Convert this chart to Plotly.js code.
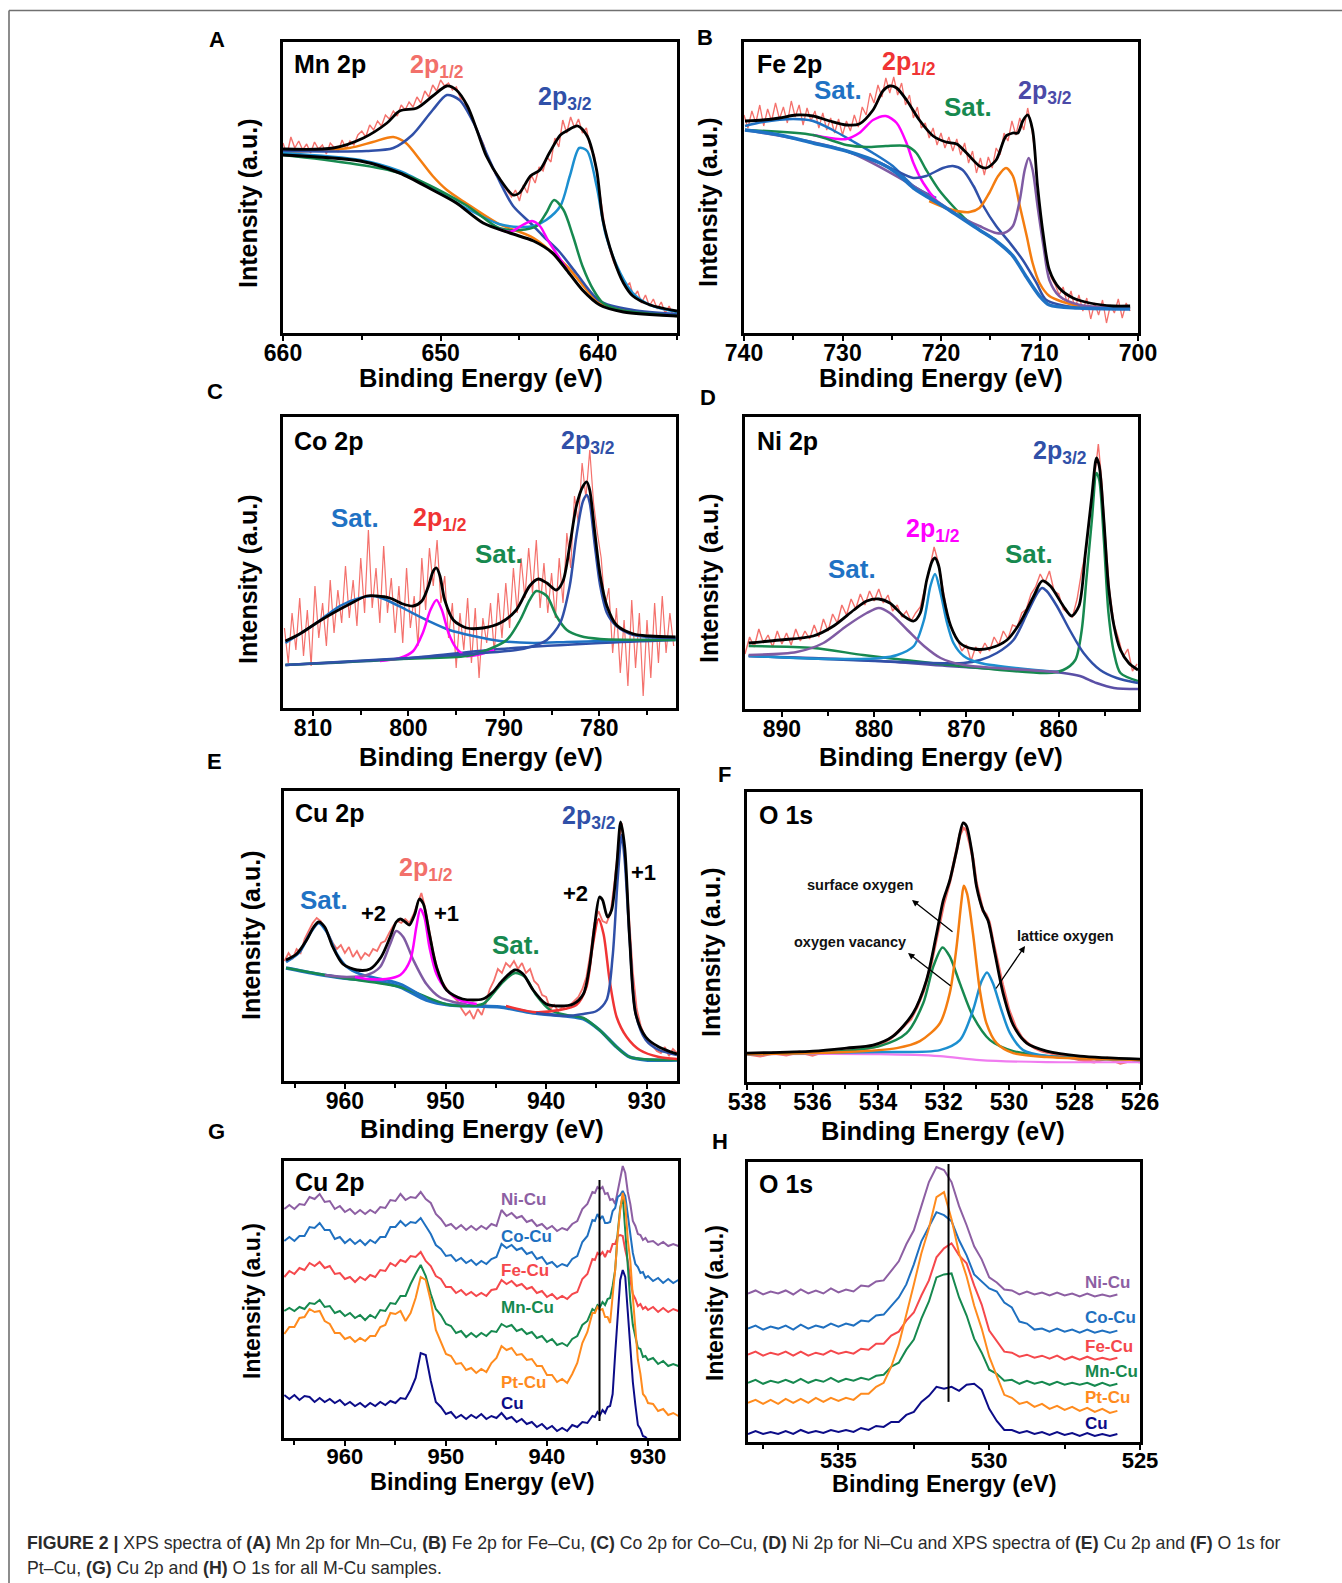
<!DOCTYPE html>
<html><head><meta charset="utf-8">
<script src="https://cdn.plot.ly/plotly-3.0.1.min.js"></script>
<style>html,body{margin:0;padding:0;background:#fff}#fig{width:1342px;height:1583px}</style>
</head><body><div id="fig"></div>
<script>
// ---------- Panel A : Mn 2p ----------
const A_raw_x=[660,659.75,659.5,659.25,659,658.75,658.5,658.25,658,657.75,657.5,657.25,657,656.75,656.5,656.25,656,655.75,655.5,655.25,655,654.75,654.5,654.25,654,653.75,653.5,653.25,653,652.75,652.5,652.25,652,651.75,651.5,651.25,651,650.75,650.5,650.25,650,649.75,649.5,649.25,649,648.75,648.5,648.25,648,647.75,647.5,647.25,647,646.75,646.5,646.25,646,645.75,645.5,645.25,645,644.75,644.5,644.25,644,643.75,643.5,643.25,643,642.75,642.5,642.25,642,641.75,641.5,641.25,641,640.75,640.5,640.25,640,639.75,639.5,639.25,639,638.75,638.5,638.25,638,637.75,637.5,637.25,637,636.75,636.5,636.25,636,635.75,635.5,635.25,635];
const A_raw_y=[190,178,196,185,192,183,189,180,191,184,188,179,190,186,181,193,184,192,188,198,202,196,208,203,212,207,218,214,222,217,228,223,231,226,236,230,242,236,248,242,253,247,250,243,246,235,232,220,214,205,196,188,174,168,158,155,147,141,136,143,132,148,140,158,150,166,162,176,171,195,186,213,200,216,205,214,200,205,185,178,150,125,98,82,70,62,56,47,50,36,42,30,38,27,34,24,31,20,27,18,22];
const A_fit_x=[660,656.8,654.9,653.4,652.6,651.5,650.5,649.6,649.0,648.3,647.7,647.1,646.2,645.4,645.0,644.3,643.7,643.1,642.4,642.0,641.3,640.7,640.1,639.7,639.0,638.4,637.8,636.7,635.0];
const A_fit_y=[184,185,195,210,222,225,237,247,243,227,203,177,153,138,140,157,163,180,198,202,207,197,163,113,73,50,37,28,22];
const A_bg_x=[660,655.1,652.6,650.5,649.0,647.3,645.6,644.1,642.9,642.0,641.0,639.9,638.4,635.0];
const A_bg_y=[178,172,160,143,130,110,100,92,80,63,43,28,21,17];
const A_orange_x=[660,655.8,654.3,653.0,652.2,651.3,650.5,649.6,648.4,646.3,644.1,642.0,639.9,637.8,635.0];
const A_orange_y=[181,185,191,196,190,173,157,143,130,109,95,67,30,22,17];
const A_blue_x=[660,654.7,653.0,651.8,650.5,649.6,648.8,647.9,647.1,646.3,645.4,644.3,643.5,642.5,641.4,639.9,637.8,635.0];
const A_blue_y=[182,182,185,198,223,238,233,210,180,153,127,110,97,82,60,32,23,19];
const A_cyan_x=[660,655.1,652.6,650.5,648.4,646.3,645.0,644.1,643.3,642.4,641.8,641.2,640.7,640.1,639.5,638.6,637.8,636.7,635.0];
const A_cyan_y=[180,173,162,145,125,109,106,107,113,127,157,185,182,147,97,60,40,28,21];
const A_green_x=[660,652.6,648.4,646.3,645.0,643.9,643.3,642.8,642.2,641.6,641.0,640.3,639.7,638.6,635.0];
const A_green_y=[178,160,128,105,103,107,120,133,123,97,67,43,30,23,17];
const A_mag_x=[646.3,645.6,644.8,644.2,643.7,643.2,642.5,642.0];
const A_mag_y=[104,101,108,112,107,93,76,64];

// ---------- Panel B : Fe 2p ----------
const B_raw_x=[740,739.6,739.2,738.8,738.4,738,737.6,737.2,736.8,736.4,736,735.6,735.2,734.8,734.4,734,733.6,733.2,732.8,732.4,732,731.6,731.2,730.8,730.4,730,729.6,729.2,728.8,728.4,728,727.6,727.2,726.8,726.4,726,725.6,725.2,724.8,724.4,724,723.6,723.2,722.8,722.4,722,721.6,721.2,720.8,720.4,720,719.6,719.2,718.8,718.4,718,717.6,717.2,716.8,716.4,716,715.6,715.2,714.8,714.4,714,713.6,713.2,712.8,712.4,712,711.6,711.2,710.8,710.4,710,709.6,709.2,708.8,708.4,708,707.6,707.2,706.8,706.4,706,705.6,705.2,704.8,704.4,704,703.6,703.2,702.8,702.4,702,701.6,701.2,700.8];
const B_raw_y=[218,205,222,210,228,207,224,212,230,214,226,210,232,216,228,208,225,212,222,205,220,203,215,200,214,198,212,202,218,206,226,218,240,230,248,236,255,240,256,238,250,228,238,215,226,205,210,195,205,188,200,185,196,182,194,178,190,170,182,160,175,158,176,165,185,178,200,192,212,198,215,203,225,205,175,120,90,70,55,48,38,46,30,42,24,38,22,35,14,30,18,33,10,28,20,34,15,30,22];
const B_fit_x=[739.9,738.1,736.4,734.7,733.0,731.3,729.6,728.3,726.9,725.9,725.2,724.5,723.5,722.2,720.8,719.5,718.4,717.4,716.1,715.4,714.4,713.4,712.7,712.2,711.7,711.2,710.7,710.2,709.6,709.0,708.0,706.6,704.9,702.5,700.8];
const B_fit_y=[212,213,215,218,217,212,208,209,223,242,247,245,233,213,197,191,189,180,167,165,173,197,200,200,212,218,203,147,97,63,45,35,30,27,27];
const B_bg_x=[739.9,736.4,733.0,729.6,726.2,724.5,722.8,719.5,716.1,714.4,712.7,711.4,710.0,709.0,706.0,700.8];
const B_bg_y=[203,198,190,182,170,160,145,125,103,92,77,57,37,28,25,24];
const B_sat1_x=[739.9,738.1,735.0,733.0,731.0,729.0,726.9,724.9,722.8,720.5];
const B_sat1_y=[207,211,214,212,203,192,180,167,147,135];
const B_mag_x=[733.0,731.3,729.6,728.3,726.9,725.6,724.5,723.5,722.8,721.8,720.5,719.5,717.0];
const B_mag_y=[198,195,194,200,213,217,210,190,170,150,133,125,110];
const B_green_x=[739.9,733.0,729.6,727.6,725.6,723.5,722.5,721.5,720.2,718.8,717.4,716.1,714.4];
const B_green_y=[203,198,188,186,187,187,180,163,143,127,113,103,93];
const B_dblue_x=[729.6,726.2,724.5,722.8,721.5,719.8,718.8,717.8,716.7,715.7,714.4,713.0,711.7,710.3,709.3,706.0];
const B_dblue_y=[182,170,162,155,157,165,167,163,147,127,107,90,73,50,33,25];
const B_orange_x=[721.2,719.5,718.4,717.1,716.1,715.1,714.2,713.4,712.7,712.0,711.3,710.7,710.0,709.0,707.6,705.9,700.8];
const B_orange_y=[132,125,122,121,125,140,157,165,157,127,97,70,50,37,31,27,25];
const B_purple_x=[739.9,729.6,722.8,717.8,716.1,714.4,713.6,712.7,712.0,711.5,711.1,710.7,710.2,709.6,709.0,708.0,705.9,700.8];
const B_purple_y=[203,182,147,115,107,100,100,107,133,163,175,163,127,87,53,37,28,25];

// ---------- Panel C : Co 2p ----------
const C_raw_x=[813.0,812.6,812.2,811.8,811.4,811.0,810.6,810.2,809.8,809.4,809.0,808.6,808.2,807.8,807.4,807.0,806.6,806.2,805.8,805.4,805.0,804.6,804.2,803.8,803.4,803.0,802.6,802.2,801.8,801.4,801.0,800.6,800.2,799.8,799.4,799.0,798.6,798.2,797.8,797.4,797.0,796.6,796.2,795.8,795.4,795.0,794.6,794.2,793.8,793.4,793.0,792.6,792.2,791.8,791.4,791.0,790.6,790.2,789.8,789.4,789.0,788.6,788.2,787.8,787.4,787.0,786.6,786.2,785.8,785.4,785.0,784.6,784.2,783.8,783.4,783.0,782.6,782.2,781.8,781.4,781.0,780.6,780.2,779.8,779.4,779.0,778.6,778.2,777.8,777.4,777.0,776.6,776.2,775.8,775.4,775.0,774.6,774.2,773.8,773.4,773.0,772.6,772.2];
const C_raw_y=[80,45,95,58,110,52,98,42,122,70,105,62,128,75,118,85,142,90,128,82,150,95,178,100,140,85,162,95,130,75,122,65,140,80,112,62,150,98,160,122,168,105,132,70,105,40,95,58,110,45,100,30,90,65,105,55,115,70,125,80,140,95,150,110,160,115,168,100,145,95,135,90,150,105,175,140,212,185,245,210,258,205,175,150,100,120,55,100,35,88,22,108,40,95,12,88,30,105,45,112,55,95,62];
const C_fit_x=[812.9,811.4,809.65,807.9,806.15,804.4,803.35,801.96,800.56,799.5,798.6,797.9,797.4,797.06,796.7,796.2,795.3,793.9,792.2,790.4,788.7,787.3,786.4,785.5,784.5,783.8,783.1,782.4,781.7,781.3,781.0,780.5,779.9,779.2,778.2,776.4,774.7,772.0];
const C_fit_y=[67,74,85,95,104,112,112,110,104,102,107,122,137,140,132,108,88,80,80,85,98,122,129,125,118,127,162,202,222,226,218,178,132,102,83,74,72,71];
const C_bg_x=[812.9,800.9,790.4,779.9,772.0];
const C_bg_y=[43,49,59,65,68];
const C_sat_x=[812.9,809.65,807.2,805.1,803.7,802.3,800.2,798.1,795.7,793.2,790.4,786.9,783.4,779.9,772.0];
const C_sat_y=[65,85,102,110,112,108,98,88,78,72,67,65,66,67,69];
const C_mag_x=[803.0,800.9,799.5,798.5,797.7,797.06,796.5,795.8,795.0,793.9,791.0];
const C_mag_y=[47,50,57,75,98,108,98,75,60,52,58];
const C_green_x=[812.9,800.9,793.9,791.5,789.7,788.3,787.3,786.6,785.5,784.5,783.4,782.0,779.9,772.0];
const C_green_y=[43,49,52,59,68,88,108,117,112,92,78,72,69,68];
const C_blue_x=[812.9,800.0,788.7,786.9,785.5,784.1,783.1,782.4,781.7,781.3,781.0,780.5,779.9,779.2,778.2,776.4,772.0];
const C_blue_y=[43,50,58,62,68,85,122,172,207,213,205,165,122,95,82,73,70];

// ---------- Panel D : Ni 2p ----------
const D_raw_x=[894,893.5,893,892.5,892,891.5,891,890.5,890,889.5,889,888.5,888,887.5,887,886.5,886,885.5,885,884.5,884,883.5,883,882.5,882,881.5,881,880.5,880,879.5,879,878.5,878,877.5,877,876.5,876,875.5,875,874.5,874,873.5,873,872.5,872,871.5,871,870.5,870,869.5,869,868.5,868,867.5,867,866.5,866,865.5,865,864.5,864,863.5,863,862.5,862,861.5,861,860.5,860,859.5,859,858.5,858,857.5,857,856.5,856,855.7,855.3,855,854.5,854,853.5,853,852.5,852,851.5];
const D_raw_y=[55,72,62,80,66,74,62,78,65,76,64,80,68,78,70,84,72,90,78,95,86,104,94,110,100,115,104,118,108,120,106,114,98,104,92,98,88,96,102,120,140,162,145,118,92,78,70,58,64,48,62,56,66,58,72,64,78,70,84,82,96,100,115,122,135,126,138,118,115,100,96,92,110,138,160,205,240,265,225,180,120,85,70,52,60,38,45];
const D_fit_x=[893.6,890.2,886.6,884.4,882.2,880.8,879.5,878.3,876.8,875.7,875.0,874.3,873.7,873.4,873.0,872.5,871.7,870.7,869.2,867.4,865.6,864.2,862.7,861.8,860.9,859.5,858.6,857.8,857.1,856.4,855.9,855.6,855.1,854.6,854.0,853.3,852.4,851.4];
const D_fit_y=[66,69,73,83,99,108,110,106,93,88,96,129,148,151,143,113,83,66,60,61,69,86,113,128,123,103,93,103,156,213,251,243,189,123,83,59,46,39];
const D_bg_x=[893.6,886.6,879.3,872.1,864.9,859.5,857.7,855.9,854.0,851.4];
const D_bg_y=[53,51,48,43,39,36,33,26,21,20];
const D_green_x=[893.6,886.6,881.2,875.7,868.5,861.3,859.5,858.2,857.5,857.0,856.4,855.9,855.6,855.1,854.6,854.0,853.3,851.4];
const D_green_y=[63,61,54,48,41,36,39,49,79,129,189,236,229,169,96,56,36,28];
const D_dblue_x=[893.6,880,870.3,868.5,866.7,864.9,863.4,862.3,861.8,861.3,860.2,858.8,857.3,855.5,853.7,851.4];
const D_dblue_y=[53,48,46,49,56,69,96,116,121,118,103,79,56,39,31,26];
const D_cyan_x=[893.6,885,879.3,877.5,875.7,874.6,873.9,873.4,872.8,872.1,871.4,870.3,868.5,860];
const D_cyan_y=[53,50,51,54,63,89,123,135,116,86,66,53,46,37];
const D_purple_x=[893.6,888.4,885.5,883.0,880.8,879.5,878.3,876.4,874.6,872.8,870.3,866.7,860];
const D_purple_y=[54,57,66,83,96,101,96,79,63,51,44,41,37];

// ---------- Panel E : Cu 2p (Pt-Cu) ----------
const E_raw_x=[966,965.6,965.2,964.8,964.4,964,963.6,963.2,962.8,962.4,962,961.6,961.2,960.8,960.4,960,959.6,959.2,958.8,958.4,958,957.6,957.2,956.8,956.4,956,955.6,955.2,954.8,954.4,954,953.6,953.2,952.8,952.4,952,951.6,951.2,950.8,950.4,950,949.6,949.2,948.8,948.4,948,947.6,947.2,946.8,946.4,946,945.6,945.2,944.8,944.4,944,943.6,943.2,942.8,942.4,942,941.6,941.2,940.8,940.4,940,939.6,939.2,938.8,938.4,938,937.6,937.2,936.8,936.4,936,935.6,935.2,934.8,934.4,934,933.6,933.2,932.8,932.5,932.2,931.8,931.4,931,930.6,930.2,929.8,929.4,929,928.6,928.2,927.8,927.4,927];
const E_raw_y=[120,128,122,132,128,142,150,158,163,160,152,146,138,132,136,128,134,124,130,122,128,125,132,130,138,140,148,155,160,158,162,158,166,178,188,172,150,128,112,100,94,88,84,80,72,66,70,62,72,66,78,92,100,112,108,118,114,120,112,118,108,112,100,96,86,84,72,76,70,74,72,76,80,84,92,104,128,158,170,160,158,168,200,238,258,230,170,110,72,55,45,40,34,30,28,34,25,32,28];
const E_fit_x=[965.85,964.8,963.8,963.1,962.6,962.0,961.2,960.2,958.8,957.5,956.4,955.5,954.9,954.5,954.0,953.6,953.05,952.6,952.2,951.6,950.9,949.9,948.3,946.3,945.3,944.3,943.1,942.3,941.3,940.0,938.7,937.3,936.3,935.7,935.2,934.7,934.4,933.9,933.5,933.0,932.6,932.2,931.7,931.1,930.1,928.8,927.0];
const E_fit_y=[121,127,141,154,159,154,134,117,111,112,124,144,159,162,159,156,167,182,177,147,114,91,82,82,89,101,111,107,91,77,75,77,87,114,154,184,181,164,171,214,259,234,141,67,44,34,27];
const E_bg_x=[965.85,962.8,960.2,956.9,954.5,951.9,949.6,946.9,944.6,941.3,938.0,936.3,934.7,933.0,931.7,930.1,927.0];
const E_bg_y=[113,107,103,100,94,81,76,75,74,68,65,62,51,34,24,21,21];
const E_green_x=[965.85,960.2,954.5,949.6,946.3,945.3,944.3,943.1,942.1,941.0,939.6,938.0,936.3,934.7,933.0,931.7,927.0];
const E_green_y=[113,103,94,76,77,87,99,108,104,86,71,66,63,51,34,24,21];
const E_sat_x=[965.85,964.5,963.5,962.6,961.8,960.8,959.8,958.5,956.9,954.5,951.9];
const E_sat_y=[119,129,147,158,149,127,114,107,103,97,82];
const E_purple_x=[962,959.8,957.8,956.5,955.5,954.9,954.2,953.2,951.9,950.6,949.2,947.9];
const E_purple_y=[106,104,106,114,137,150,144,121,97,84,79,77];
const E_mag_x=[959,957.8,955.9,954.5,953.5,952.9,952.5,952.1,951.6,950.9,949.9,948.6,946.9];
const E_mag_y=[104,102,102,106,121,154,172,164,134,107,91,81,77];
const E_red_x=[944,941.3,938.7,937.0,936.0,935.4,934.8,934.3,933.7,933.0,932.0,930.7,928.8,927.0];
const E_red_y=[75,69,71,76,94,134,162,147,101,64,44,31,24,22];
const E_dblue_x=[941,938.0,936.3,935.0,934.0,933.4,932.9,932.5,932.2,931.7,931.1,930.1,928.8,927.0];
const E_dblue_y=[68,65,67,70,81,124,201,246,221,141,67,41,31,26];

// ---------- Panel F : O 1s (Pt-Cu) ----------
const F_raw_x=[538,537.6,537.2,536.8,536.4,536,535.6,535.2,534.8,534.4,534,533.6,533.4,533.2,533,532.8,532.6,532.4,532.2,532,531.8,531.6,531.5,531.4,531.3,531.2,531.1,531,530.9,530.8,530.7,530.6,530.5,530.4,530.2,530,529.8,529.6,529.4,529.2,529,528.6,528.2,527.8,527.4,527,526.6,526.2,526];
const F_raw_y=[28,26,29,27,30,27,31,30,32,33,36,44,50,56,63,76,92,115,145,178,202,235,248,255,253,240,224,200,185,172,168,160,143,128,98,72,55,44,38,34,31,28,25,22,20,24,19,22,20];
const F_fit_x=[538,535.98,534.96,534.15,533.54,532.93,532.52,532.21,532.01,531.81,531.6,531.4,531.3,531.14,530.99,530.79,530.64,530.43,530.18,529.87,529.46,528.85,527.83,526.0];
const F_fit_y=[29,31,34,37,46,69,102,149,182,202,232,260,257,232,196,172,162,129,89,57,39,31,26,23];
const F_orange_x=[538,534.96,533.43,532.72,532.11,531.81,531.6,531.45,531.38,531.28,531.1,530.89,530.69,530.38,529.87,528.85,526.0];
const F_orange_y=[28,30,34,41,59,89,136,182,197,189,149,92,59,39,29,25,22];
const F_green_x=[538,535.47,533.95,533.13,532.62,532.31,532.03,531.81,531.5,531.1,530.58,529.87,528.85,526.0];
const F_green_y=[28,30,36,49,79,116,135,126,99,66,42,31,26,22];
const F_cyan_x=[538,533.95,532.11,531.5,531.1,530.84,530.67,530.49,530.23,529.97,529.57,528.85,526.0];
const F_cyan_y=[28,30,32,42,72,101,110,99,72,49,32,26,22];
const F_bg_x=[538,533.95,532.11,530.89,528.85,526.0];
const F_bg_y=[28,28,26,22,20,20];

// ---------- Panel G : Cu 2p, all samples ----------
const G_x=[966,965.5,965,964.5,964,963.5,963,962.5,962,961.5,961,960.5,960,959.5,959,958.5,958,957.5,957,956.5,956,955.5,955,954.5,954,953.5,953,952.5,952,951.5,951,950.5,950,949.5,949,948.5,948,947.5,947,946.5,946,945.5,945,944.5,944,943.5,943,942.5,942,941.5,941,940.5,940,939.5,939,938.5,938,937.5,937,936.5,936,935.5,935.25,935,934.75,934.5,934.25,934,933.75,933.5,933.25,933,932.75,932.5,932.25,932,931.75,931.5,931.25,931,930.75,930.5,930.25,930,929.5,929,928.5,928,927.5,927];
const G_ni_y=[229,233,229,234,233,241,239,244,236,237,229,232,226,229,224,228,224,228,225,231,230,238,237,244,238,241,240,246,239,235,224,219,212,214,209,213,208,212,208,212,209,214,212,228,222,225,220,222,216,218,212,214,209,212,207,210,208,214,217,229,234,246,245,251,249,251,244,245,238,239,234,247,258,272,265,246,234,217,212,204,203,198,200,196,197,193,196,192,194,192];
const G_co_y=[197,201,197,202,202,211,210,215,208,208,199,201,195,199,194,198,193,198,195,201,201,211,211,217,212,216,215,220,212,204,193,189,182,183,177,180,175,178,173,177,174,179,181,194,190,193,188,190,184,186,179,181,174,176,171,174,172,179,182,196,202,218,217,224,219,222,215,215,216,227,230,241,243,247,242,224,208,185,174,171,165,166,160,162,157,160,155,159,155,158];
const G_fe_y=[161,167,164,170,168,175,172,176,170,172,164,165,159,161,156,161,158,163,161,168,167,175,172,178,176,182,181,186,177,172,162,159,151,151,145,148,143,146,142,145,142,148,149,158,154,157,152,154,149,151,145,147,141,144,139,142,139,144,146,159,164,179,178,185,183,186,181,187,186,194,194,202,203,202,188,177,158,144,139,132,134,129,131,128,131,126,130,126,129,127];
const G_mn_y=[127,130,127,131,129,135,134,138,131,132,125,127,122,125,120,123,118,123,120,128,127,135,134,142,142,154,164,173,162,144,129,123,114,112,105,107,101,105,101,105,102,107,106,114,111,113,107,109,104,106,100,102,96,99,93,95,92,99,102,113,117,129,127,133,131,136,133,139,140,152,168,205,230,242,207,170,137,113,101,90,89,81,82,78,80,74,77,72,74,72];
const G_pt_y=[104,111,111,120,121,129,126,127,117,114,105,105,99,101,96,100,97,102,102,111,113,125,124,127,117,125,140,161,158,137,108,96,84,82,74,75,68,70,65,69,66,75,80,92,88,90,83,84,78,79,72,72,63,63,56,59,55,64,75,95,106,125,125,131,128,129,121,121,115,142,168,202,228,245,234,198,177,141,113,78,64,44,41,35,34,27,29,23,25,22];
const G_cu_x=[966,965.5,965,964.5,964,963.5,963,962.5,962,961.5,961,960.5,960,959.5,959,958.5,958,957.5,957,956.5,956,955.5,955,954.5,954,953.5,953,952.5,952,951.5,951,950.5,950,949.5,949,948.5,948,947.5,947,946.5,946,945.5,945,944.5,944,943.5,943,942.5,942,941.5,941,940.5,940,939.5,939,938.5,938,937.5,937,936.5,936,935.5,935.25,935,934.75,934.5,934.25,934,933.75,933.5,933.25,933,932.75,932.5,932.25,932,931.75,931.5,931.25,931,930.75,930.5,930.25,930,929.5,929,928.5];
const G_cu_y=[43,39,43,38,42,41,36,40,36,39,35,38,33,36,32,35,31,35,32,36,33,37,35,40,39,48,60,85,83,57,36,31,24,26,20,23,19,23,20,24,19,22,20,25,19,21,16,19,14,16,11,14,9,12,7,10,7,13,11,16,15,22,21,26,23,28,25,31,32,44,84,126,158,168,161,126,87,56,33,13,9,2,1,-2,-4,-4,-4];
const G_ref_eV=934.8, G_ref_h=[17,258];

// ---------- Panel H : O 1s, all samples ----------
const H_x=[538,537.75,537.5,537.25,537,536.75,536.5,536.25,536,535.75,535.5,535.25,535,534.75,534.5,534.25,534,533.75,533.5,533.25,533,532.75,532.5,532.25,532,531.75,531.5,531.25,531,530.75,530.5,530.25,530,529.75,529.5,529.25,529,528.75,528.5,528.25,528,527.75,527.5,527.25,527,526.75,526.5,526.25,526,525.75];
const H_ni_y=[148,151,147,150,148,151,147,152,148,151,148,153,149,152,150,156,155,160,161,170,180,197,211,235,259,274,271,259,235,216,195,182,164,159,152,151,147,150,147,149,146,149,146,148,145,148,145,147,145,147];
const H_co_y=[113,116,112,115,113,116,112,117,113,116,114,118,115,118,116,121,120,126,127,136,144,157,177,200,215,229,226,220,201,186,167,160,153,150,139,134,120,118,112,113,110,113,110,112,109,112,109,111,109,111];
const H_fe_y=[87,90,86,89,87,90,86,90,86,89,87,91,88,90,88,93,92,98,98,106,110,121,129,146,161,184,193,198,186,178,156,137,111,100,90,89,85,87,84,86,83,86,82,85,82,85,82,84,82,84];
const H_mn_y=[59,62,58,61,59,62,59,63,59,62,60,64,60,63,61,64,62,66,67,75,79,92,102,123,140,164,167,168,144,126,103,89,72,68,61,62,58,61,58,60,57,60,57,59,57,59,56,59,56,58];
const H_pt_y=[39,42,38,42,38,43,39,43,39,44,40,44,41,44,42,48,48,55,59,75,97,126,157,188,213,244,249,222,188,165,136,113,85,66,47,44,38,40,35,38,33,36,32,35,31,34,30,33,29,31];
const H_cu_y=[8,11,8,10,8,11,8,12,9,11,9,12,10,12,10,14,12,16,15,20,20,27,30,40,46,55,53,55,51,57,58,52,33,21,12,12,9,11,8,10,7,10,7,9,6,9,6,8,6,8];
const H_ref_eV=531.35, H_ref_h=[40,277];

const SAMPLE_LABELS=['Ni-Cu','Co-Cu','Fe-Cu','Mn-Cu','Pt-Cu','Cu'];

// ---------- styling ----------
const FONT='Liberation Sans, Arial, Helvetica, sans-serif';
const W=1342,HH=1583;
const C={raw:'#f4716c',black:'#000000',dblue:'#3050a8',cyan:'#1c8fd0',orange:'#f47d10',green:'#17894f',mag:'#ff00ff',purple:'#7f5ba3',satblue:'#1f72c4',red:'#f03434',salmon:'#f2706a',magbg:'#f07cf0',
  ni:'#8d5fa3',co:'#1f70c0',fe:'#f5484c',mn:'#16894f',pt:'#ff8b1e',cu:'#0c0c88'};

function tr(n,x,y,color,width,shape){
  const s=n===1?'':String(n);
  return {type:'scatter',mode:'lines',x:x,y:y,xaxis:'x'+s,yaxis:'y'+s,
    line:{color:color,width:width,shape:shape||'spline',smoothing:0.8},hoverinfo:'skip',showlegend:false};
}
const traces=[
  tr(1,A_raw_x,A_raw_y,C.raw,1.4,'linear'),
  tr(1,A_orange_x,A_orange_y,C.orange,2.5),
  tr(1,A_blue_x,A_blue_y,C.dblue,2.5),
  tr(1,A_cyan_x,A_cyan_y,C.cyan,2.5),
  tr(1,A_green_x,A_green_y,C.green,2.5),
  tr(1,A_mag_x,A_mag_y,C.mag,2.5),
  tr(1,A_bg_x,A_bg_y,C.black,3),
  tr(1,A_fit_x,A_fit_y,C.black,2.8),

  tr(2,B_raw_x,B_raw_y,C.raw,1.3,'linear'),
  tr(2,B_sat1_x,B_sat1_y,C.satblue,2.5),
  tr(2,B_mag_x,B_mag_y,C.mag,2.5),
  tr(2,B_green_x,B_green_y,C.green,2.5),
  tr(2,B_dblue_x,B_dblue_y,C.dblue,2.5),
  tr(2,B_orange_x,B_orange_y,C.orange,2.5),
  tr(2,B_purple_x,B_purple_y,C.purple,2.5),
  tr(2,B_bg_x,B_bg_y,C.satblue,3.5),
  tr(2,B_fit_x,B_fit_y,C.black,2.8),

  tr(3,C_raw_x,C_raw_y,C.raw,1.2,'linear'),
  tr(3,C_bg_x,C_bg_y,C.dblue,2.5),
  tr(3,C_sat_x,C_sat_y,C.satblue,2.5),
  tr(3,C_mag_x,C_mag_y,C.mag,2.5),
  tr(3,C_green_x,C_green_y,C.green,2.5),
  tr(3,C_blue_x,C_blue_y,C.dblue,2.5),
  tr(3,C_fit_x,C_fit_y,C.black,2.8),

  tr(4,D_raw_x,D_raw_y,C.raw,1.4,'linear'),
  tr(4,D_bg_x,D_bg_y,'#5a4fa6',2.5),
  tr(4,D_green_x,D_green_y,C.green,2.5),
  tr(4,D_dblue_x,D_dblue_y,C.dblue,2.5),
  tr(4,D_cyan_x,D_cyan_y,C.cyan,2.5),
  tr(4,D_purple_x,D_purple_y,C.purple,2.5),
  tr(4,D_fit_x,D_fit_y,C.black,2.8),

  tr(5,E_raw_x,E_raw_y,C.raw,1.8,'linear'),
  tr(5,E_bg_x,E_bg_y,C.satblue,3.5),
  tr(5,E_green_x,E_green_y,C.green,2.5),
  tr(5,E_sat_x,E_sat_y,C.satblue,2.8),
  tr(5,E_purple_x,E_purple_y,C.purple,2.5),
  tr(5,E_mag_x,E_mag_y,C.mag,2.5),
  tr(5,E_red_x,E_red_y,C.red,2.5),
  tr(5,E_dblue_x,E_dblue_y,C.dblue,2.5),
  tr(5,E_fit_x,E_fit_y,C.black,2.8),

  tr(6,F_raw_x,F_raw_y,C.raw,3,'linear'),
  tr(6,F_bg_x,F_bg_y,C.magbg,2.2),
  tr(6,F_green_x,F_green_y,C.green,2.5),
  tr(6,F_cyan_x,F_cyan_y,C.cyan,2.5),
  tr(6,F_orange_x,F_orange_y,C.orange,2.5),
  tr(6,F_fit_x,F_fit_y,C.black,2.8),

  tr(7,G_x,G_ni_y,C.ni,2,'linear'),
  tr(7,G_x,G_co_y,C.co,2,'linear'),
  tr(7,G_x,G_fe_y,C.fe,2,'linear'),
  tr(7,G_x,G_mn_y,C.mn,2,'linear'),
  tr(7,G_x,G_pt_y,C.pt,2,'linear'),
  tr(7,G_cu_x,G_cu_y,C.cu,2,'linear'),

  tr(8,H_x,H_ni_y,C.ni,2,'linear'),
  tr(8,H_x,H_co_y,C.co,2,'linear'),
  tr(8,H_x,H_fe_y,C.fe,2,'linear'),
  tr(8,H_x,H_mn_y,C.mn,2,'linear'),
  tr(8,H_x,H_pt_y,C.pt,2,'linear'),
  tr(8,H_x,H_cu_y,C.cu,2,'linear')
];

const panels=[
  {box:[283,677,42,333],xr:[660,635],yr:[0,291],dt:10,mn:5},
  {box:[744,1138,42,333],xr:[740,700],yr:[0,291],dt:10,mn:5},
  {box:[283,676,417,708],xr:[813.15,771.96],yr:[0,291],dt:10,mn:5},
  {box:[745,1138,417,709],xr:[894,851.4],yr:[0,292],dt:10,mn:5},
  {box:[284,677,791,1081],xr:[966.05,927.0],yr:[0,290],dt:10,mn:5},
  {box:[747,1140,792,1082],xr:[538,526],yr:[0,291],dt:2,mn:1},
  {box:[284,678,1161,1438],xr:[966.03,927.03],yr:[0,277],dt:10,mn:5},
  {box:[748,1140,1162,1442],xr:[538,525],yr:[0,279],dt:5,mn:2.5}
];
const layout={width:W,height:HH,margin:{l:0,r:0,t:0,b:0},paper_bgcolor:'#ffffff',plot_bgcolor:'#ffffff',showlegend:false,annotations:[],shapes:[]};
panels.forEach((p,i)=>{
  const n=i+1, s=n===1?'':String(n);
  const [l,r,t,b]=p.box;
  layout['xaxis'+s]={domain:[l/W,r/W],range:p.xr,anchor:'y'+s,dtick:p.dt,tick0:0,ticks:'outside',ticklen:5,tickwidth:2,tickcolor:'#000',
    ticklabelstandoff:-8,
    showline:true,mirror:true,linewidth:3,linecolor:'#000',showgrid:false,zeroline:false,
    tickfont:{family:FONT,size:(n>=7?22:23),color:'#000',weight:'bold'},
    minor:{dtick:p.mn,tick0:0,ticks:'outside',ticklen:4,tickwidth:2,tickcolor:'#000',showgrid:false}};
  layout['yaxis'+s]={domain:[1-b/HH,1-t/HH],range:p.yr,anchor:'x'+s,showticklabels:false,ticks:'',
    showline:true,mirror:true,linewidth:3,linecolor:'#000',showgrid:false,zeroline:false};
});

function ann(text,x,y,size,color,o){
  return Object.assign({xref:'paper',yref:'paper',x:x/W,y:1-y/HH,text:text,showarrow:false,xanchor:'center',yanchor:'middle',
    font:{family:FONT,size:size,color:color}},o||{});
}
const AN=layout.annotations;
[['A',217,40],['B',705,37],['C',215,391],['D',708,398],['E',214,761],['F',724,775],['G',216,1131],['H',720,1141]]
  .forEach(a=>AN.push(ann('<b>'+a[0]+'</b>',a[1],a[2],22,'#000')));
[['Mn 2p',292,64],['Fe 2p',755,64],['Co 2p',292,441],['Ni 2p',755,441],['Cu 2p',293,813],['O 1s',757,815],['Cu 2p',293,1182],['O 1s',757,1184]]
  .forEach(a=>AN.push(ann('<b>'+a[0]+'</b>',a[1],a[2],25,'#000',{xanchor:'left'})));
const xt=[[481,378,25.5],[941,378,25.5],[481,757,25.5],[941,757,25.5],[482,1129,25.5],[943,1131,25.5],[482,1482,23.5],[944,1484,23.5]];
xt.forEach(a=>AN.push(ann('<b>Binding Energy (eV)</b>',a[0],a[1],a[2],'#000')));
const yt=[[248,204,25],[708,203,25],[248,580,25],[709,579,25],[251,935,25],[711,953,25],[252,1301,23],[715,1303,23]];
yt.forEach(a=>AN.push(ann('<b>Intensity (a.u.)</b>',a[0],a[1],a[2],'#000',{textangle:-90})));
const P12='<b>2p<sub>1/2</sub></b>', P32='<b>2p<sub>3/2</sub></b>', SAT='<b>Sat.</b>';
[
  [P12,437,66,25,C.salmon],[P32,565,98,25,C.dblue],
  [P12,909,63,25,C.red],[SAT,838,90,26,C.satblue],[SAT,968,107,26,C.green],[P32,1045,92,25,'#4b4aa8'],
  [P32,588,442,25,C.dblue],[SAT,355,518,26,C.satblue],[P12,440,519,25,C.red],[SAT,499,554,26,C.green],
  [P32,1060,452,25,C.dblue],[P12,933,530,25,C.mag],[SAT,852,569,26,C.satblue],[SAT,1029,554,26,C.green],
  [P32,589,817,25,C.dblue],[P12,426,869,25,C.salmon],[SAT,324,900,26,C.satblue],[SAT,516,945,26,C.green],
  ['<b>+1</b>',643,872,22,'#000'],['<b>+2</b>',575,893,22,'#000'],['<b>+2</b>',374,913,22,'#000'],['<b>+1</b>',446,913,22,'#000']
].forEach(a=>AN.push(ann(a[0],a[1],a[2],a[3],a[4])));
AN.push(ann('<b>surface oxygen</b>',860,885,14.5,'#111'));
AN.push(ann('<b>oxygen vacancy</b>',850,942,14.5,'#111'));
AN.push(ann('<b>lattice oxygen</b>',1065,936,14.5,'#111'));
[[912,900,42,33],[908,953,44,34],[1025,946,-30,44]].forEach(a=>AN.push({xref:'paper',yref:'paper',x:a[0]/W,y:1-a[1]/HH,ax:a[2],ay:a[3],text:'',showarrow:true,arrowhead:2,arrowsize:1,arrowwidth:1.3,arrowcolor:'#000'}));
const gCol=[C.ni,C.co,C.fe,C.mn,C.pt,C.cu];
const gY=[1199,1236,1270,1307,1382,1403];
const hY=[1282,1317,1346,1371,1397,1423];
SAMPLE_LABELS.forEach((s,i)=>{
  AN.push(ann('<b>'+s+'</b>',499,gY[i],17,gCol[i],{xanchor:'left'}));
  AN.push(ann('<b>'+s+'</b>',1083,hY[i],17,gCol[i],{xanchor:'left'}));
});
AN.push(ann('<b>FIGURE 2 |</b> XPS spectra of <b>(A)</b> Mn 2p for Mn–Cu, <b>(B)</b> Fe 2p for Fe–Cu, <b>(C)</b> Co 2p for Co–Cu, <b>(D)</b> Ni 2p for Ni–Cu and XPS spectra of <b>(E)</b> Cu 2p and <b>(F)</b> O 1s for',25,1543,17.7,'#2b2b2b',{xanchor:'left'}));
AN.push(ann('Pt–Cu, <b>(G)</b> Cu 2p and <b>(H)</b> O 1s for all M-Cu samples.',25,1568,17.7,'#2b2b2b',{xanchor:'left'}));

layout.shapes.push({type:'line',xref:'x7',yref:'y7',x0:G_ref_eV,x1:G_ref_eV,y0:G_ref_h[0],y1:G_ref_h[1],line:{color:'#000',width:2}});
layout.shapes.push({type:'line',xref:'x8',yref:'y8',x0:H_ref_eV,x1:H_ref_eV,y0:H_ref_h[0],y1:H_ref_h[1],line:{color:'#000',width:2}});
layout.shapes.push({type:'line',xref:'paper',yref:'paper',x0:9/W,x1:1,y0:1-10.5/HH,y1:1-10.5/HH,line:{color:'#707070',width:1.6}});
layout.shapes.push({type:'line',xref:'paper',yref:'paper',x0:9/W,x1:9/W,y0:1-10.5/HH,y1:0,line:{color:'#707070',width:1.6}});

Plotly.newPlot('fig',traces,layout,{staticPlot:true,displayModeBar:false});
</script></body></html>
